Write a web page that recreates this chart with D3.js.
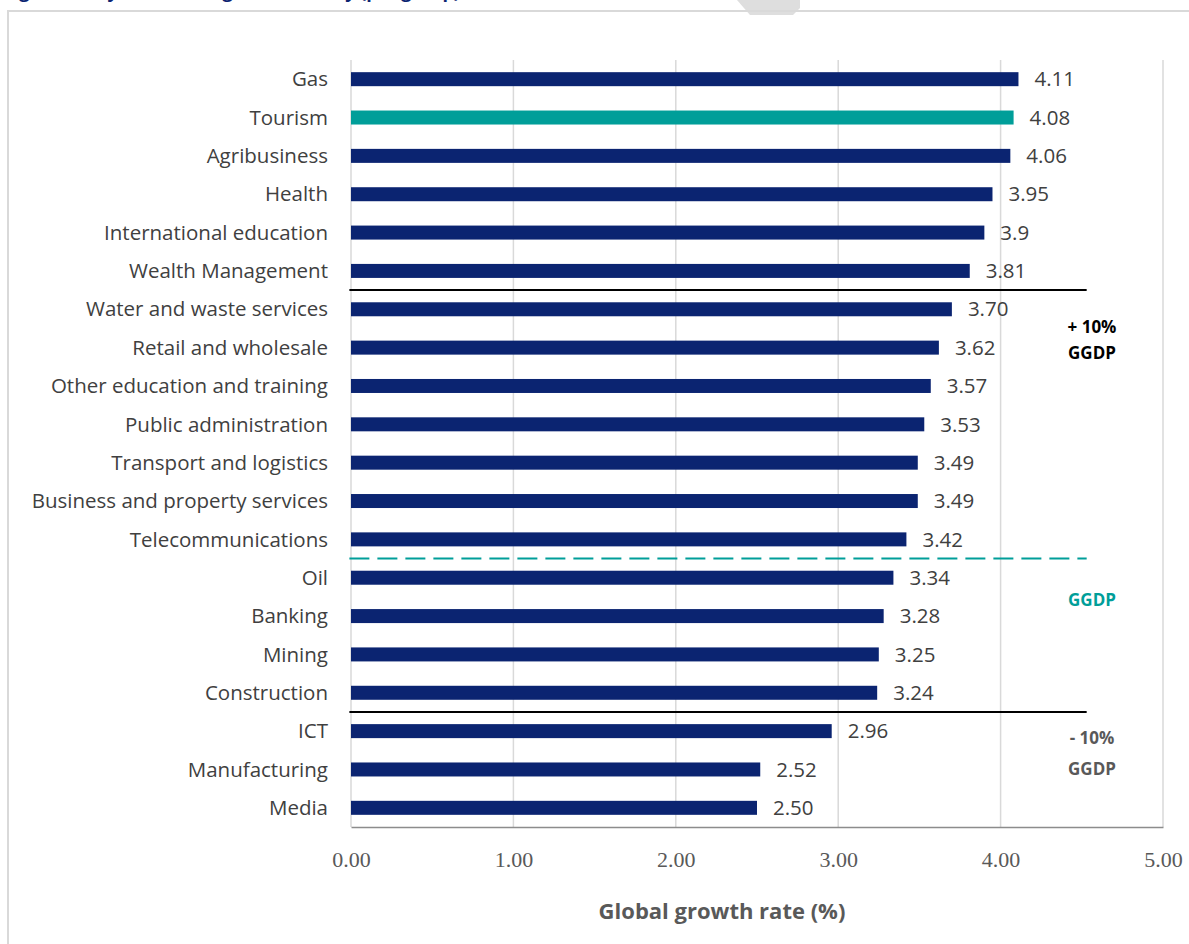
<!DOCTYPE html>
<html>
<head>
<meta charset="utf-8">
<script src="https://cdn.jsdelivr.net/npm/d3@7"></script>
<style>
  html, body { margin: 0; padding: 0; background: #ffffff; }
  svg { display: block; }
</style>
</head>
<body>
<script>
// ---- data ----
const categories = ["Gas", "Tourism", "Agribusiness", "Health", "International education",
  "Wealth Management", "Water and waste services", "Retail and wholesale",
  "Other education and training", "Public administration", "Transport and logistics",
  "Business and property services", "Telecommunications", "Oil", "Banking", "Mining",
  "Construction", "ICT", "Manufacturing", "Media"];
const values = [4.11, 4.08, 4.06, 3.95, 3.9, 3.81, 3.70, 3.62, 3.57, 3.53, 3.49, 3.49,
  3.42, 3.34, 3.28, 3.25, 3.24, 2.96, 2.52, 2.50];
const valueLabels = ["4.11", "4.08", "4.06", "3.95", "3.9", "3.81", "3.70", "3.62", "3.57",
  "3.53", "3.49", "3.49", "3.42", "3.34", "3.28", "3.25", "3.24", "2.96", "2.52", "2.50"];
const highlighted = ["Tourism"];
const xTicks = [0, 1, 2, 3, 4, 5];
const xTickLabels = ["0.00", "1.00", "2.00", "3.00", "4.00", "5.00"];
const xTitle = "Global growth rate (%)";
// band separators: after which category, style
const separatorsAfter = ["Wealth Management", "Telecommunications", "Construction"];
const separatorKinds = ["solid", "dash", "solid"];
// notes: text, position in category-index units, kind
const noteTexts = ["+ 10%", "GGDP", "GGDP", "- 10%", "GGDP"];
const notePositions = [6.46, 7.14, 13.58, 17.17, 18.0];
const noteKinds = ["up", "up", "mid", "down", "down"];
const titleText = "Figure 1: Key industries' growth rate by (per group), 2016–2036";

// ---- layout ----
const W = 1189, H = 944;
const svg = d3.select("body").append("svg").attr("width", W).attr("height", H);

const NAVY = "#0b2471", TEAL = "#009e99", TXT = "#404040", AX = "#595959";
const sansFont = "'Open Sans', 'Noto Sans', sans-serif";

// cut-off title (only descenders visible, as in the reference)
svg.append("text").attr("x", 4).attr("y", -2)
  .attr("font-family", sansFont).attr("font-weight", 700).attr("font-size", 18)
  .attr("fill", "#0b2471").text(titleText);

// watermark chevron at top
svg.append("polygon")
  .attr("points", "737,0 800,0 800,8 793,15 750,15")
  .attr("fill", "#dedede");

// outer frame
svg.append("rect").attr("x", 8).attr("y", 11).attr("width", 1200).attr("height", 960)
  .attr("fill", "none").attr("stroke", "#d9d9d9").attr("stroke-width", 2);

const x = d3.scaleLinear().domain([0, 5]).range([351, 1163]);
const y = d3.scaleBand().domain(categories).range([60, 827]).paddingInner(0.635).paddingOuter(0.3175);
const step = y.step();
const yIdx = p => y(categories[0]) + y.bandwidth() / 2 + p * step;

const g = svg.append("g");

// gridlines
g.append("g").selectAll("line").data(xTicks).join("line")
  .attr("x1", d => x(d)).attr("x2", d => x(d))
  .attr("y1", 60).attr("y2", 827)
  .attr("stroke", "#d9d9d9").attr("stroke-width", 1.5);

// x axis
const xAxis = d3.axisBottom(x).tickValues(xTicks).tickFormat((d, i) => xTickLabels[i]).tickSize(0).tickPadding(24);
const ax = g.append("g").attr("transform", "translate(0,827)").call(xAxis);
ax.select(".domain").attr("stroke", "#8c8c8c").attr("stroke-width", 1.5);
ax.selectAll("text").attr("font-family", "'Liberation Serif', 'DejaVu Serif', serif")
  .attr("font-size", 22).attr("fill", AX);

// x title
g.append("text").attr("x", 722).attr("y", 919).attr("text-anchor", "middle")
  .attr("font-family", sansFont).attr("font-weight", 700).attr("font-size", 22)
  .attr("fill", AX).text(xTitle);

// bars
g.append("g").selectAll("rect").data(categories).join("rect")
  .attr("x", x(0)).attr("y", d => y(d))
  .attr("width", (d, i) => x(values[i]) - x(0))
  .attr("height", y.bandwidth())
  .attr("fill", d => highlighted.includes(d) ? TEAL : NAVY);

// category labels
g.append("g").selectAll("text").data(categories).join("text")
  .attr("x", 328).attr("y", d => y(d) + y.bandwidth() / 2)
  .attr("dy", "0.35em").attr("text-anchor", "end")
  .attr("font-family", sansFont).attr("font-size", 20.5).attr("fill", TXT)
  .text(d => d);

// value labels
g.append("g").selectAll("text").data(categories).join("text")
  .attr("x", (d, i) => x(values[i]) + 16).attr("y", d => y(d) + y.bandwidth() / 2)
  .attr("dy", "0.35em")
  .attr("font-family", sansFont).attr("font-size", 20.5).attr("fill", TXT)
  .text((d, i) => valueLabels[i]);

// separators
separatorsAfter.forEach((c, i) => {
  const yy = y(c) + y.bandwidth() / 2 + step / 2;
  const dash = separatorKinds[i] === "dash";
  g.append("line").attr("x1", x(-0.01)).attr("x2", x(4.53))
    .attr("y1", yy).attr("y2", yy)
    .attr("stroke", dash ? TEAL : "#000000")
    .attr("stroke-width", 2)
    .attr("stroke-dasharray", dash ? "20,8" : null);
});

// band notes
noteTexts.forEach((t, i) => {
  const k = noteKinds[i];
  const col = k === "up" ? "#000000" : (k === "mid" ? TEAL : AX);
  g.append("text").attr("x", 1092).attr("y", yIdx(notePositions[i])).attr("dy", "0.35em")
    .attr("text-anchor", "middle")
    .attr("font-family", sansFont).attr("font-weight", 700).attr("font-size", 17)
    .attr("fill", col).text(t);
});
</script>
</body>
</html>
